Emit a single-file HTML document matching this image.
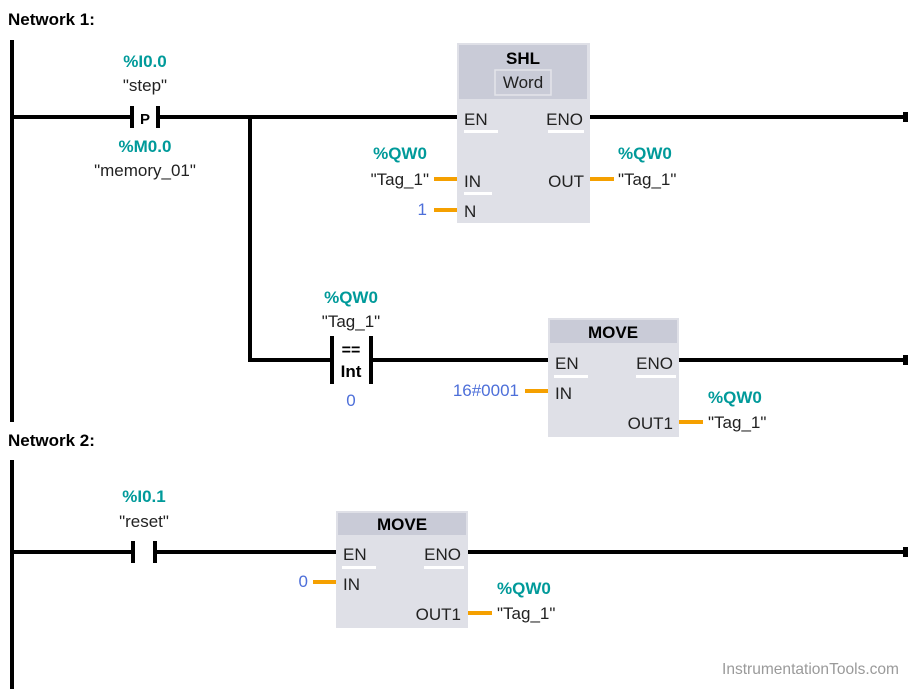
<!DOCTYPE html>
<html><head><style>
html,body{margin:0;padding:0;background:#fff;}
svg{display:block;font-family:"Liberation Sans",sans-serif;}
.t{fill:#009a9a;font-weight:bold;font-size:17px;}
.n{fill:#222;font-size:17px;}
.b{fill:#4d6fd9;font-size:17px;}
.k{fill:#000;font-weight:bold;}
</style></head><body>
<svg width="910" height="689" viewBox="0 0 910 689">
<text x="8" y="25" class="k" font-size="17">Network 1:</text>
<rect x="10" y="40" width="4" height="382" fill="#000"/>
<rect x="12" y="115" width="119" height="4" fill="#000"/>
<rect x="130" y="106" width="4" height="22" fill="#000"/>
<rect x="156" y="106" width="4" height="22" fill="#000"/>
<text x="145" y="124" text-anchor="middle" class="k" font-size="15">P</text>
<rect x="158" y="115" width="300" height="4" fill="#000"/>
<text x="145" y="67" text-anchor="middle" class="t">%I0.0</text>
<text x="145" y="91" text-anchor="middle" class="n">"step"</text>
<text x="145" y="152" text-anchor="middle" class="t">%M0.0</text>
<text x="145" y="176" text-anchor="middle" class="n">"memory_01"</text>
<rect x="248" y="115" width="4" height="247" fill="#000"/>
<rect x="457" y="43" width="133" height="180" fill="#dfe0e7"/>
<rect x="459" y="45" width="128" height="54" fill="#c9cbd7"/>
<text x="523" y="64" text-anchor="middle" class="k" font-size="17">SHL</text>
<rect x="495" y="70" width="56" height="25" fill="#c9cbd7" stroke="#e4e5ea" stroke-width="1.5"/>
<text x="523" y="88" text-anchor="middle" class="n">Word</text>
<text x="464" y="125" class="n">EN</text>
<text x="583" y="125" text-anchor="end" class="n">ENO</text>
<rect x="464" y="130" width="34" height="3" fill="#fff"/>
<rect x="548" y="130" width="36" height="3" fill="#fff"/>
<text x="464" y="187" class="n">IN</text>
<rect x="464" y="192" width="28" height="3" fill="#fff"/>
<text x="464" y="217" class="n">N</text>
<text x="584" y="187" text-anchor="end" class="n">OUT</text>
<rect x="590" y="115" width="316" height="4" fill="#000"/>
<rect x="903" y="112" width="5" height="10" fill="#000"/>
<rect x="434" y="177" width="23" height="4" fill="#f5a000"/>
<rect x="434" y="208" width="23" height="4" fill="#f5a000"/>
<rect x="590" y="177" width="24" height="4" fill="#f5a000"/>
<text x="400" y="159" text-anchor="middle" class="t">%QW0</text>
<text x="429" y="185" text-anchor="end" class="n">"Tag_1"</text>
<text x="427" y="215" text-anchor="end" class="b">1</text>
<text x="618" y="159" class="t">%QW0</text>
<text x="618" y="185" class="n">"Tag_1"</text>
<rect x="248" y="358" width="84" height="4" fill="#000"/>
<rect x="330" y="336" width="4" height="48" fill="#000"/>
<rect x="369" y="336" width="4" height="48" fill="#000"/>
<text x="351" y="355" text-anchor="middle" class="k" font-size="16">==</text>
<text x="351" y="377" text-anchor="middle" class="k" font-size="17">Int</text>
<rect x="371" y="358" width="178" height="4" fill="#000"/>
<text x="351" y="303" text-anchor="middle" class="t">%QW0</text>
<text x="351" y="327" text-anchor="middle" class="n">"Tag_1"</text>
<text x="351" y="406" text-anchor="middle" class="b">0</text>
<rect x="548" y="318" width="131" height="119" fill="#dfe0e7"/>
<rect x="550" y="320" width="127" height="23" fill="#c9cbd7"/>
<text x="613" y="338" text-anchor="middle" class="k" font-size="17">MOVE</text>
<text x="555" y="369" class="n">EN</text>
<text x="673" y="369" text-anchor="end" class="n">ENO</text>
<rect x="554" y="375" width="34" height="3" fill="#fff"/>
<rect x="636" y="375" width="40" height="3" fill="#fff"/>
<text x="555" y="399" class="n">IN</text>
<text x="673" y="429" text-anchor="end" class="n">OUT1</text>
<rect x="679" y="358" width="227" height="4" fill="#000"/>
<rect x="903" y="355" width="5" height="10" fill="#000"/>
<rect x="525" y="389" width="23" height="4" fill="#f5a000"/>
<rect x="679" y="420" width="24" height="4" fill="#f5a000"/>
<text x="519" y="396" text-anchor="end" class="b">16#0001</text>
<text x="708" y="403" class="t">%QW0</text>
<text x="708" y="428" class="n">"Tag_1"</text>
<text x="8" y="446" class="k" font-size="17">Network 2:</text>
<rect x="10" y="460" width="4" height="229" fill="#000"/>
<rect x="12" y="550" width="120" height="4" fill="#000"/>
<rect x="131" y="541" width="4" height="22" fill="#000"/>
<rect x="153" y="541" width="4" height="22" fill="#000"/>
<rect x="155" y="550" width="182" height="4" fill="#000"/>
<text x="144" y="502" text-anchor="middle" class="t">%I0.1</text>
<text x="144" y="527" text-anchor="middle" class="n">"reset"</text>
<rect x="336" y="511" width="132" height="117" fill="#dfe0e7"/>
<rect x="338" y="513" width="128" height="22" fill="#c9cbd7"/>
<text x="402" y="530" text-anchor="middle" class="k" font-size="17">MOVE</text>
<text x="343" y="560" class="n">EN</text>
<text x="461" y="560" text-anchor="end" class="n">ENO</text>
<rect x="342" y="566" width="34" height="3" fill="#fff"/>
<rect x="424" y="566" width="40" height="3" fill="#fff"/>
<text x="343" y="590" class="n">IN</text>
<text x="461" y="620" text-anchor="end" class="n">OUT1</text>
<rect x="468" y="550" width="438" height="4" fill="#000"/>
<rect x="903" y="547" width="5" height="10" fill="#000"/>
<rect x="313" y="580" width="23" height="4" fill="#f5a000"/>
<rect x="468" y="611" width="24" height="4" fill="#f5a000"/>
<text x="308" y="587" text-anchor="end" class="b">0</text>
<text x="497" y="594" class="t">%QW0</text>
<text x="497" y="619" class="n">"Tag_1"</text>
<text x="899" y="674" text-anchor="end" fill="#9a9a9a" font-size="16" textLength="177" lengthAdjust="spacingAndGlyphs">InstrumentationTools.com</text>
</svg>
</body></html>
